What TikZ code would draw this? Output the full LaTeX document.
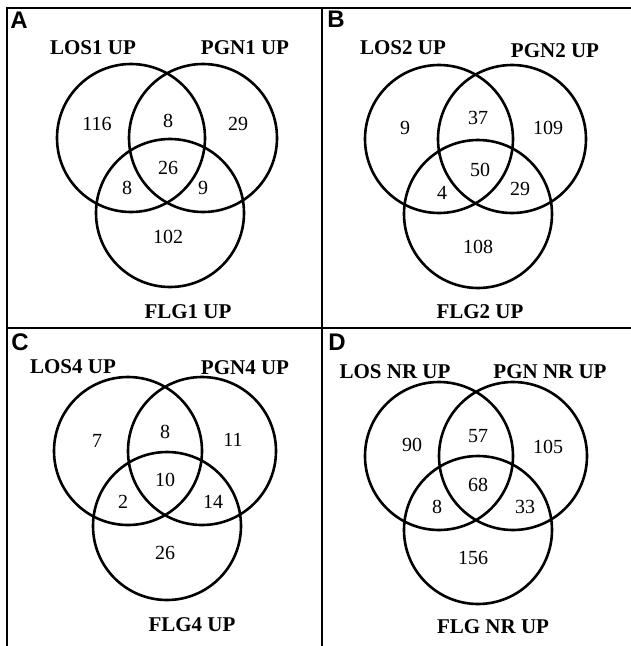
\documentclass[tikz,border=0pt]{standalone}
\usepackage{fontspec}
\setmainfont{Liberation Serif}
\newfontfamily\panelfont{Liberation Sans}
\usepackage{tikz}

\begin{document}
\begin{tikzpicture}[x=1pt,y=-1pt,
  frame/.style={line width=2.6pt},
  venn/.style={line width=2.6pt},
  num/.style={font=\fontsize{20}{24}\selectfont,inner sep=0pt},
  setlab/.style={font=\fontsize{21}{25}\selectfont\bfseries,inner sep=0pt},
  panel/.style={font=\panelfont\fontsize{24}{28}\selectfont\bfseries,inner sep=0pt}]
  \useasboundingbox (0,0) rectangle (631,646);

  % frame
  \coordinate [] (TR) at (631,8);
  \coordinate [] (TL) at (7,8);
  \coordinate [] (BL) at (7,646);
  \draw[frame] (TR) -- (TL) -- (BL);
  \draw[frame] (322,8) -- (322,646);
  \draw[frame] (7,328) -- (631,328);

  % A
  \coordinate [] (LA) at (131,138);
  \coordinate [] (PA) at (203,138);
  \coordinate [] (FA) at (170,213);
  \draw[venn] (LA) circle (74);
  \draw[venn] (PA) circle (74);
  \draw[venn] (FA) circle (74);
  \node[panel] (labA) at (19,20) {A};
  \node[setlab] (losA) at (93,48) {LOS1 UP};
  \node[setlab] (pgnA) at (245,48) {PGN1 UP};
  \node[setlab] (flgA) at (188,312) {FLG1 UP};
  \node[num] (a1) at (97,124) {116};
  \node[num] (a2) at (168,121) {8};
  \node[num] (a3) at (238,124) {29};
  \node[num] (a4) at (168,168) {26};
  \node[num] (a5) at (127,188) {8};
  \node[num] (a6) at (203,188) {9};
  \node[num] (a7) at (168,237) {102};

  % B
  \coordinate [] (LB) at (439,139);
  \coordinate [] (PB) at (512,139);
  \coordinate [] (FB) at (478,214);
  \draw[venn] (LB) circle (74);
  \draw[venn] (PB) circle (74);
  \draw[venn] (FB) circle (74);
  \node[panel] (labB) at (336,19) {B};
  \node[setlab] (losB) at (403,48) {LOS2 UP};
  \node[setlab] (pgnB) at (555,51) {PGN2 UP};
  \node[setlab] (flgB) at (480,312) {FLG2 UP};
  \node[num] (b1) at (405,128) {9};
  \node[num] (b2) at (478,118) {37};
  \node[num] (b3) at (548,128) {109};
  \node[num] (b4) at (480,170) {50};
  \node[num] (b5) at (442,193) {4};
  \node[num] (b6) at (520,189) {29};
  \node[num] (b7) at (478,247) {108};

  % C
  \coordinate [] (LC) at (128,451);
  \coordinate [] (PC) at (202,451);
  \coordinate [] (FC) at (167,526);
  \draw[venn] (LC) circle (74);
  \draw[venn] (PC) circle (74);
  \draw[venn] (FC) circle (74);
  \node[panel] (labC) at (20,342) {C};
  \node[setlab] (losC) at (73,367) {LOS4 UP};
  \node[setlab] (pgnC) at (245,368) {PGN4 UP};
  \node[setlab] (flgC) at (192,625) {FLG4 UP};
  \node[num] (c1) at (97,441) {7};
  \node[num] (c2) at (165,432) {8};
  \node[num] (c3) at (233,440) {11};
  \node[num] (c4) at (165,480) {10};
  \node[num] (c5) at (123,502) {2};
  \node[num] (c6) at (213,502) {14};
  \node[num] (c7) at (165,553) {26};

  % D
  \coordinate [] (LD) at (439,456);
  \coordinate [] (PD) at (513,456);
  \coordinate [] (FD) at (478,530);
  \draw[venn] (LD) circle (74);
  \draw[venn] (PD) circle (74);
  \draw[venn] (FD) circle (74);
  \node[panel] (labD) at (337,342) {D};
  \node[setlab] (losD) at (395,372) {LOS NR UP};
  \node[setlab] (pgnD) at (550,372) {PGN NR UP};
  \node[setlab] (flgD) at (493,627) {FLG NR UP};
  \node[num] (d1) at (412,445) {90};
  \node[num] (d2) at (478,436) {57};
  \node[num] (d3) at (548,447) {105};
  \node[num] (d4) at (478,485) {68};
  \node[num] (d5) at (437,507) {8};
  \node[num] (d6) at (525,507) {33};
  \node[num] (d7) at (473,558) {156};

\end{tikzpicture}
\end{document}
